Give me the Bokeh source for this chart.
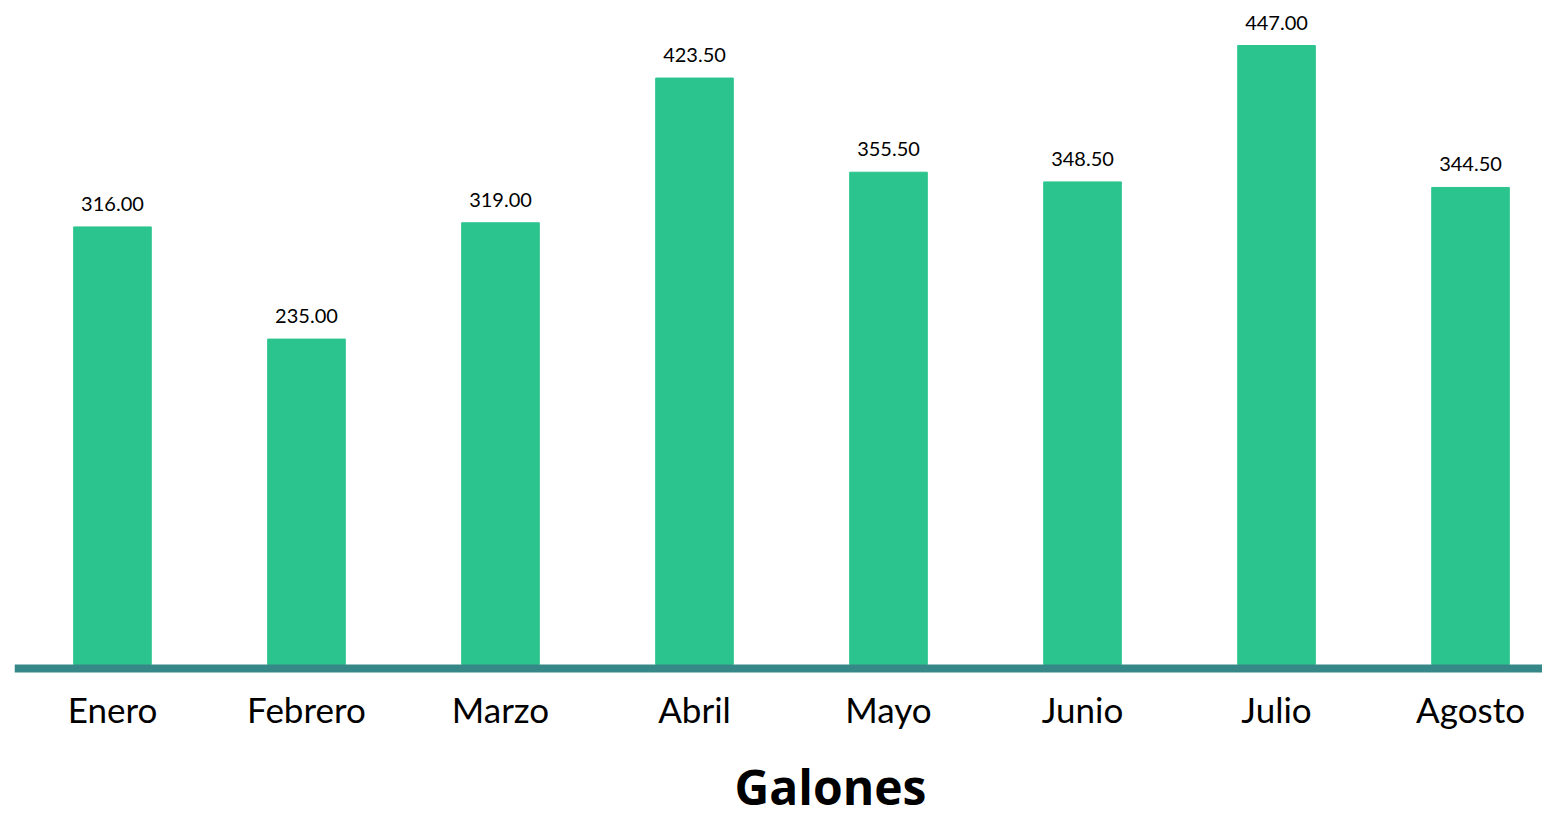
from bokeh.plotting import figure
from bokeh.models import Range1d, ColumnDataSource, Label, LabelSet, Span
from bokeh.core.properties import value
from bokeh.embed import file_html
from bokeh.resources import INLINE

months = ["Enero", "Febrero", "Marzo", "Abril", "Mayo", "Junio", "Julio", "Agosto"]
galones = [316.00, 235.00, 319.00, 423.50, 355.50, 348.50, 447.00, 344.50]
value_labels = [f"{v:.2f}" for v in galones]
xs = list(range(len(months)))
title_text = "Galones"

src = ColumnDataSource(dict(x=xs, top=galones, lab=value_labels, month=months))

p = figure(width=1542, height=818, output_backend="svg", toolbar_location=None,
           x_range=Range1d(-0.505, 7.371), y_range=Range1d(-111.2, 479.5),
           x_axis_location=None, y_axis_location=None,
           min_border_left=14, min_border_right=0, min_border_top=0,
           min_border_bottom=0)
p.grid.visible = False
p.outline_line_color = None

p.vbar(x="x", top="top", bottom=0, width=0.4, source=src, color="#2BC48E")

# baseline (axis line)
p.add_layout(Span(location=-2.89, dimension="width", line_color="#368787",
                  line_width=8))

# value labels above bars
p.add_layout(LabelSet(x="x", y="top", text="lab", source=src, text_align="center",
                      text_baseline="bottom", y_offset=16, text_font=value("Lato"),
                      text_font_size="20px", text_color="#000000"))

# category labels under the baseline
p.add_layout(LabelSet(x="x", y=0, text="month", source=src, text_align="center",
                      text_baseline="alphabetic", y_offset=-58,
                      text_font=value("Lato"), text_font_size="35px",
                      text_color="#000000"))

# title
p.add_layout(Label(x=3.701, y=0, y_offset=-122, text=title_text,
                   text_align="center", text_baseline="alphabetic",
                   text_font="Open Sans", text_font_size="48px",
                   text_font_style="bold", text_color="#000000"))

open("out.html", "w").write(file_html(p, INLINE))
